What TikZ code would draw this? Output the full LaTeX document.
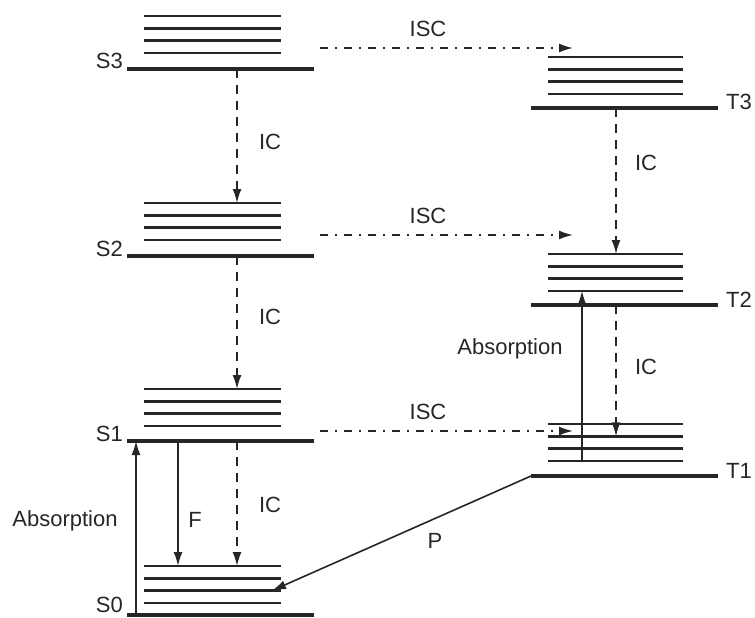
\documentclass[tikz,border=0pt]{standalone}
\usepackage{fontspec}
\setmainfont{Liberation Sans}
\usetikzlibrary{arrows.meta}
\definecolor{ink}{HTML}{262626}

\begin{document}
\begin{tikzpicture}[
x=1pt, y=-1pt,
every node/.style={font=\fontsize{22}{25}\selectfont, text=ink, inner sep=0pt},
base/.style={draw=ink, line width=3.2pt},
vib/.style={draw=ink, line width=2.6pt},
arrow/.style={draw=ink, line width=1.6pt, -{Latex[length=14pt,width=9pt]}},
icarrow/.style={arrow, dash pattern=on 9pt off 7pt},
iscarrow/.style={arrow, dash pattern=on 8pt off 7pt on 2pt off 7pt}
]
\useasboundingbox (0,0) rectangle (755,618);

% singlet levels
\foreach \n/\yb/\yv/\yl in {S3/69/16/69, S2/256/203/256, S1/441/389/441, S0/615/566/612} {
  \draw[base] (127,\yb) coordinate (\n) -- (314,\yb);
  \foreach \k in {0,...,3}
    \draw[vib] (144,{\yv+12.3*\k}) coordinate (\n-v\k) -- (281,{\yv+12.3*\k});
  \node[anchor=base east] (\n-lab) at (123,\yl) {\n};
}

% triplet levels
\foreach \n/\yb/\yv in {T3/108/57, T2/305/254, T1/476/424} {
  \draw[base] (531,\yb) coordinate (\n) -- (718,\yb);
  \foreach \k in {0,...,3}
    \draw[vib] (548,{\yv+12.3*\k}) coordinate (\n-v\k) -- (683,{\yv+12.3*\k});
  \node[anchor=base west] (\n-lab) at (726,\yb+2) {\n};
}

% columns of the vertical transitions
\coordinate (icS) at (237,0);
\coordinate (flS) at (178,0);
\coordinate (abS) at (136,0);
\coordinate (icT) at (616,0);
\coordinate (abT) at (582,0);
\coordinate (phS) at (272,0);

% internal conversion
\draw[icarrow] (S3 -| icS) -- (S2-v0 -| icS);
\draw[icarrow] (S2 -| icS) -- (S1-v0 -| icS);
\draw[icarrow] (S1 -| icS) -- (S0-v0 -| icS);
\draw[icarrow] (T3 -| icT) -- (T2-v0 -| icT);
\draw[icarrow] (T2 -| icT) -- (T1-v1 -| icT);
\node (ic1) at (270,142) {IC};
\node (ic2) at (270,317) {IC};
\node (ic3) at (270,505) {IC};
\node (ic4) at (646,163) {IC};
\node (ic5) at (646,367) {IC};

% intersystem crossing
\foreach \n/\y in {3/48, 2/235, 1/431} {
  \coordinate (isc\n a) at (320,\y);
  \coordinate (isc\n b) at (573,\y);
  \draw[iscarrow] (isc\n a) -- (isc\n b);
  \node (isc\n lab) at (428,\y-19) {ISC};
}

% absorption, fluorescence, phosphorescence
\draw[arrow] (S0 -| abS) -- (S1 -| abS);
\draw[arrow] (S1 -| flS) -- (S0-v0 -| flS);
\draw[arrow] (T1-v3 -| abT) -- (T2-v3 -| abT);
\draw[arrow] (T1) -- (S0-v2 -| phS);
\node (abs1) at (65,521) {Absorption};
\node (abs2) at (510,349) {Absorption};
\node (flab) at (195,520) {F};
\node (phlab) at (435,541) {P};
\end{tikzpicture}
\end{document}
